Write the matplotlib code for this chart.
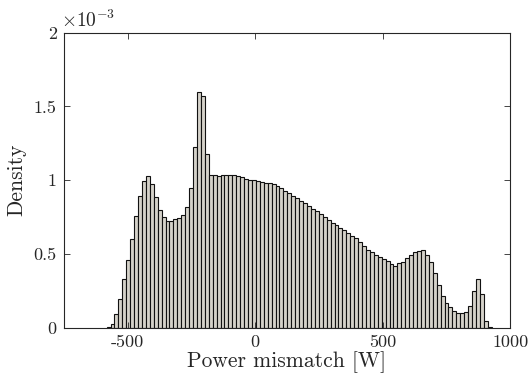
import matplotlib
matplotlib.use("Agg")
import matplotlib.pyplot as plt
import numpy as np

# ---- data ----
bin_start = -582.0      # W, left edge of first bin
bin_width = 15.4        # W
density_e3 = [
    0.007, 0.025, 0.093, 0.197, 0.33, 0.46, 0.60, 0.755, 0.89, 0.995,
    1.03, 0.976, 0.884, 0.796, 0.749, 0.721, 0.723, 0.735, 0.742, 0.762,
    0.816, 0.945, 1.223, 1.596, 1.569, 1.178, 1.033, 1.033, 1.03, 1.033,
    1.035, 1.035, 1.033, 1.03, 1.022, 1.01, 1.0, 0.998, 0.993, 0.988,
    0.982, 0.982, 0.972, 0.962, 0.945, 0.93, 0.912, 0.895, 0.878, 0.862,
    0.846, 0.825, 0.808, 0.79, 0.77, 0.75, 0.73, 0.71, 0.695, 0.678,
    0.662, 0.641, 0.622, 0.606, 0.582, 0.556, 0.53, 0.51, 0.492, 0.476,
    0.465, 0.449, 0.432, 0.42, 0.437, 0.447, 0.47, 0.49, 0.513, 0.521,
    0.526, 0.495, 0.445, 0.369, 0.287, 0.215, 0.165, 0.138, 0.115, 0.102,
    0.098, 0.108, 0.149, 0.247, 0.332, 0.226, 0.047, 0.003,
]
x_ticks = [-500, 0, 500, 1000]
x_tick_labels = ["-500", "0", "500", "1000"]
y_ticks_e3 = [0, 0.5, 1, 1.5, 2]
y_tick_labels = ["0", "0.5", "1", "1.5", "2"]
x_label = "Power mismatch [W]"
y_label = "Density"

# ---- plot ----
plt.rcParams["font.family"] = ["cmr10", "DejaVu Serif"]
plt.rcParams["mathtext.fontset"] = "cm"
plt.rcParams["axes.unicode_minus"] = False

fig = plt.figure(figsize=(5.3, 3.79), dpi=100)
ax = fig.add_axes([0.1202, 0.1354, 0.8426, 0.7783])

density = np.array(density_e3) * 1e-3
edges = bin_start + bin_width * np.arange(len(density) + 1)
ax.bar(edges[:-1], density, width=bin_width, align="edge",
       color="#d5d2ca", edgecolor="#111111", linewidth=0.8)

ax.set_xlim(-750, 1000)
ax.set_ylim(0, 2e-3)
ax.set_xticks(x_ticks)
ax.set_xticklabels(x_tick_labels)
ax.set_yticks(np.array(y_ticks_e3) * 1e-3)
ax.set_yticklabels(y_tick_labels)

dark = "#262626"
ax.tick_params(direction="in", length=4, width=0.6, top=True, right=True,
               labelsize=13, colors=dark, pad=5)
for s in ax.spines.values():
    s.set_color(dark)
    s.set_linewidth(0.8)

ax.set_xlabel(x_label, fontsize=15.5, color=dark, labelpad=1)
ax.set_ylabel(y_label, fontsize=15.5, color=dark, labelpad=5)
ax.text(-0.005, 1.005, r"$\times10^{-3}$", transform=ax.transAxes,
        fontsize=14, color=dark, ha="left", va="bottom")

fig.savefig("out.png", dpi=100)
